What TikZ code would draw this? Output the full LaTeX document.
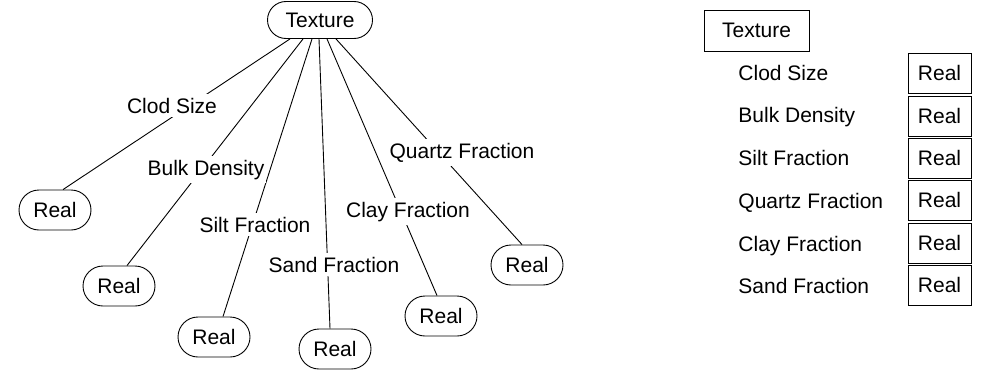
\documentclass[tikz,border=0pt]{standalone}
\usepackage{fontspec}
\setmainfont{Liberation Sans}
\usetikzlibrary{shapes.misc,calc}
\begin{document}
\begin{tikzpicture}[x=1pt,y=-1pt,line width=0.9pt,
  every node/.style={font=\fontsize{21}{24}\selectfont},
  rnode/.style={draw,rounded rectangle,minimum width=72pt,minimum height=40pt,inner sep=0pt},
  lab/.style={fill=white,inner xsep=2pt,inner ysep=4pt,anchor=base},
  sq/.style={draw,rectangle,inner sep=0pt},
  rbox/.style={sq,minimum width=63pt,minimum height=40pt},
  rlab/.style={anchor=base west,inner sep=0pt}]
\useasboundingbox (0,0) rectangle (981,372);
% left tree
\node[draw,rounded rectangle,minimum width=105pt,minimum height=37pt,inner sep=0pt] (tex) at (320,20) {Texture};
\node[rnode] (r1) at (55,210) {Real};
\node[rnode] (r2) at (119,286) {Real};
\node[rnode] (r3) at (214,337) {Real};
\node[rnode] (r4) at (335,349) {Real};
\node[rnode] (r5) at (441,316) {Real};
\node[rnode] (r6) at (527,265) {Real};
\draw ($(tex.south)+(-30,0)$) -- ($(r1.north)+(8,0)$);
\draw ($(tex.south)+(-17,0)$) -- ($(r2.north)+(8,0)$);
\draw ($(tex.south)+(-8,0)$) -- ($(r3.north)+(9,0)$);
\draw ($(tex.south)+(-1,0)$) -- ($(r4.north)+(-5,0)$);
\draw ($(tex.south)+(7,0)$) -- ($(r5.north)+(-4,0)$);
\draw ($(tex.south)+(16,0)$) -- ($(r6.north)+(-5,0)$);
\node[lab] (lclod) at (172,113) {Clod Size};
\node[lab] (lbulk) at (206,175) {Bulk Density};
\node[lab] (lsilt) at (255,232) {Silt Fraction};
\node[lab] (lsand) at (334,272) {Sand Fraction};
\node[lab] (lclay) at (408,217) {Clay Fraction};
\node[lab] (lquartz) at (462,158) {Quartz Fraction};
% right table
\node[sq,minimum width=105pt,minimum height=41pt] (rtex) at (756.5,30.5) {Texture};
\node[rbox] (b1) at (939.5,73) {Real};
\node[rbox] (b2) at (939.5,116) {Real};
\node[rbox] (b3) at (939.5,158) {Real};
\node[rbox] (b4) at (939.5,200) {Real};
\node[rbox] (b5) at (939.5,243) {Real};
\node[rbox] (b6) at (939.5,285) {Real};
\node[rlab] (t1) at (738,80) {Clod Size};
\node[rlab] (t2) at (738,122) {Bulk Density};
\node[rlab] (t3) at (738,165) {Silt Fraction};
\node[rlab] (t4) at (738,208) {Quartz Fraction};
\node[rlab] (t5) at (738,251) {Clay Fraction};
\node[rlab] (t6) at (738,293) {Sand Fraction};
\end{tikzpicture}
\end{document}
